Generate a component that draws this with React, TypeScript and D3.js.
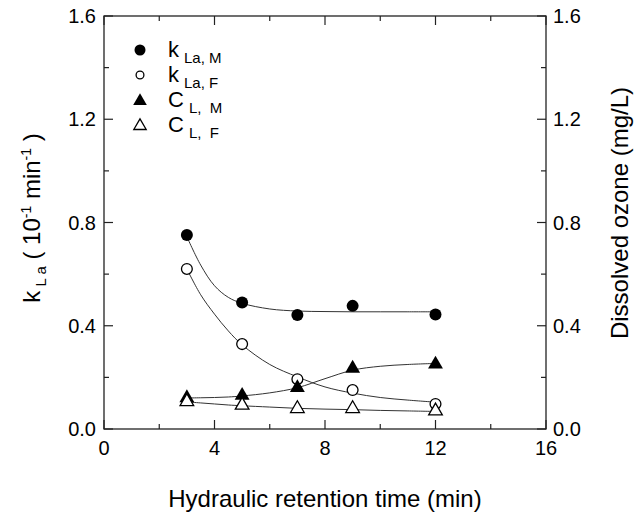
import React from "react";
import * as d3 from "d3";

// measured points
const hrt = [3, 5, 7, 9, 12];
const kLaM = [0.752, 0.49, 0.442, 0.477, 0.444];
const kLaF = [0.62, 0.329, 0.193, 0.151, 0.097];
const cLM = [0.125, 0.134, 0.164, 0.239, 0.255];
const cLF = [0.11, 0.096, 0.083, 0.083, 0.074];

// fitted curves
const fitX = [3, 3.5, 4, 4.5, 5, 6, 7, 8, 9, 10, 11, 12];
const fitKLaM = [0.745, 0.635, 0.555, 0.51, 0.487, 0.465, 0.457, 0.455, 0.454, 0.454, 0.454, 0.454];
const fitKLaF = [0.62, 0.52, 0.445, 0.38, 0.326, 0.25, 0.202, 0.163, 0.139, 0.122, 0.112, 0.104];
const fitCLM = [0.12, 0.121, 0.122, 0.124, 0.128, 0.14, 0.16, 0.195, 0.228, 0.243, 0.25, 0.254];
const fitCLF = [0.105, 0.101, 0.097, 0.093, 0.09, 0.085, 0.08, 0.077, 0.075, 0.072, 0.07, 0.068];

const xTicks = [0, 4, 8, 12, 16];
const xMinor = [2, 6, 10, 14];
const yTicks = [0, 0.4, 0.8, 1.2, 1.6];
const yMinor = [0.2, 0.6, 1.0, 1.4];

const W = 639;
const H = 515;
const left = 104;
const right = 546;
const top = 16;
const bottom = 429;
const font = "'Liberation Sans', Arial, sans-serif";
const ink = "#222";

const x = d3.scaleLinear().domain([0, 16]).range([left, right]);
const y = d3.scaleLinear().domain([0, 1.6]).range([bottom, top]);
const y2 = d3.scaleLinear().domain([0, 1.6]).range([bottom, top]);

const line = d3
  .line<number>()
  .x((_, i) => x(fitX[i]))
  .curve(d3.curveCatmullRom);

const tri = (cx: number, cy: number, s: number) =>
  `M${cx},${cy - s * 0.62}L${cx + s * 0.62},${cy + s * 0.45}L${cx - s * 0.62},${cy + s * 0.45}Z`;

type Kind = "fc" | "oc" | "ft" | "ot";

const Marker = ({ kind, cx, cy, s }: { kind: Kind; cx: number; cy: number; s: number }) => {
  if (kind === "fc") return <circle cx={cx} cy={cy} r={s * 0.5} fill="#000" />;
  if (kind === "oc")
    return <circle cx={cx} cy={cy} r={s * 0.5 - 0.6} fill="#fff" stroke="#000" strokeWidth={1.3} />;
  if (kind === "ft") return <path d={tri(cx, cy, s)} fill="#000" />;
  return <path d={tri(cx, cy, s - 1)} fill="#fff" stroke="#000" strokeWidth={1.3} />;
};

const series: { kind: Kind; vals: number[]; fit: number[]; scale: typeof y }[] = [
  { kind: "fc", vals: kLaM, fit: fitKLaM, scale: y },
  { kind: "oc", vals: kLaF, fit: fitKLaF, scale: y },
  { kind: "ft", vals: cLM, fit: fitCLM, scale: y2 },
  { kind: "ot", vals: cLF, fit: fitCLF, scale: y2 },
];

const legendRows: { kind: Kind; main: string; sub: string }[] = [
  { kind: "fc", main: "k", sub: "La, M" },
  { kind: "oc", main: "k", sub: "La, F" },
  { kind: "ft", main: "C", sub: "L,  M" },
  { kind: "ot", main: "C", sub: "L,  F" },
];

export default function App() {
  return (
    <svg
      width={W}
      height={H}
      style={{ position: "absolute", left: 0, top: 0, background: "#fff" }}
      fontFamily={font}
    >
      <rect width={W} height={H} fill="#fff" />

      {/* fit curves */}
      {series.map((s, i) => (
        <path
          key={"fit" + i}
          d={line.y((v) => s.scale(v))(s.fit) || ""}
          fill="none"
          stroke="#333"
          strokeWidth={1}
        />
      ))}

      {/* points */}
      {series.map((s, i) =>
        s.vals.map((v, j) => (
          <Marker key={`m${i}-${j}`} kind={s.kind} cx={x(hrt[j])} cy={s.scale(v)} s={12} />
        ))
      )}

      {/* frame */}
      <rect x={left} y={top} width={right - left} height={bottom - top} fill="none" stroke={ink} strokeWidth={1.3} />

      {/* x ticks bottom and top */}
      {xTicks.map((t) => (
        <g key={"xt" + t}>
          <line x1={x(t)} x2={x(t)} y1={bottom} y2={bottom - 9} stroke={ink} strokeWidth={1.2} />
          <line x1={x(t)} x2={x(t)} y1={top} y2={top + 9} stroke={ink} strokeWidth={1.2} />
          <text x={x(t)} y={455} fontSize={20} textAnchor="middle" fill="#000">
            {t}
          </text>
        </g>
      ))}
      {xMinor.map((t) => (
        <g key={"xm" + t}>
          <line x1={x(t)} x2={x(t)} y1={bottom} y2={bottom - 5} stroke={ink} strokeWidth={1.2} />
          <line x1={x(t)} x2={x(t)} y1={top} y2={top + 5} stroke={ink} strokeWidth={1.2} />
        </g>
      ))}

      {/* y ticks left and right */}
      {yTicks.map((t) => (
        <g key={"yt" + t}>
          <line x1={left} x2={left + 9} y1={y(t)} y2={y(t)} stroke={ink} strokeWidth={1.2} />
          <line x1={right} x2={right - 9} y1={y2(t)} y2={y2(t)} stroke={ink} strokeWidth={1.2} />
          <text x={96} y={y(t) + 7} fontSize={20} textAnchor="end" fill="#000">
            {d3.format(".1f")(t)}
          </text>
          <text x={553} y={y2(t) + 7} fontSize={20} textAnchor="start" fill="#000">
            {d3.format(".1f")(t)}
          </text>
        </g>
      ))}
      {yMinor.map((t) => (
        <g key={"ym" + t}>
          <line x1={left} x2={left + 5} y1={y(t)} y2={y(t)} stroke={ink} strokeWidth={1.2} />
          <line x1={right} x2={right - 5} y1={y2(t)} y2={y2(t)} stroke={ink} strokeWidth={1.2} />
        </g>
      ))}

      {/* axis titles */}
      <text x={(left + right) / 2} y={507} fontSize={24} textAnchor="middle" fill="#000">
        Hydraulic retention time (min)
      </text>
      <text transform="translate(40,218) rotate(-90)" fontSize={24} textAnchor="middle" fill="#000">
        k
        <tspan fontSize={15} dy={6}> L a</tspan>
        <tspan dy={-6}> ( 10</tspan>
        <tspan fontSize={14} dy={-9}>-1</tspan>
        <tspan dy={9}> min</tspan>
        <tspan fontSize={14} dy={-9}>-1</tspan>
        <tspan dy={9}> )</tspan>
      </text>
      <text transform="translate(628,213) rotate(-90)" fontSize={24} textAnchor="middle" fill="#000">
        Dissolved ozone (mg/L)
      </text>

      {/* legend */}
      {legendRows.map((r, i) => {
        const cy = 50 + i * 25;
        return (
          <g key={"lg" + i}>
            <Marker kind={r.kind} cx={140} cy={cy} s={r.kind === "oc" ? 9 : 11} />
            <text x={168} y={cy + 7} fontSize={22} fill="#000">
              {r.main}
              <tspan fontSize={15} dx={5} dy={6} style={{ whiteSpace: "pre" }}>
                {r.sub}
              </tspan>
            </text>
          </g>
        );
      })}
    </svg>
  );
}
